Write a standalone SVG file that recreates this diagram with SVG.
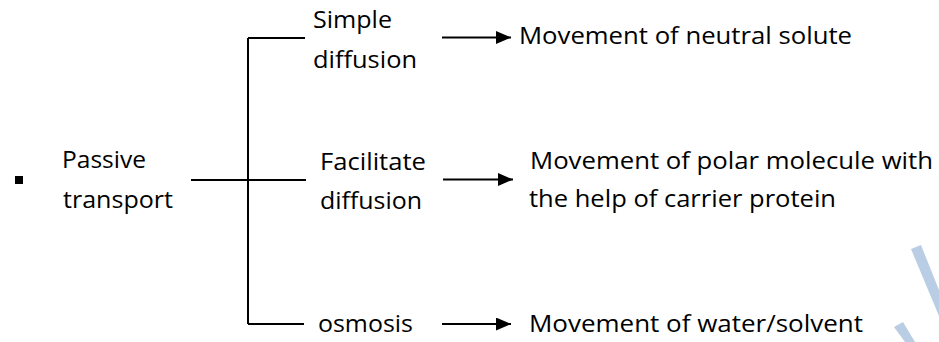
<svg xmlns="http://www.w3.org/2000/svg" width="939" height="342" viewBox="0 0 939 342">
  <style>
    .t { font-family: "Open Sans", "Noto Sans", sans-serif; font-size: 23.5px; fill: #000; }
    .ln { stroke: #000; stroke-width: 2; fill: none; }
    .wm { fill: #b9cde5; }
  </style>
  <defs>
    <marker id="ah" markerUnits="userSpaceOnUse" markerWidth="15" markerHeight="13" viewBox="0 0 15 13" refX="15" refY="6.5" orient="auto">
      <path d="M0,0 L15,6.5 L0,13 Z" fill="#000"/>
    </marker>
  </defs>
  <rect width="939" height="342" fill="#fff"/>

  <g id="watermark">
    <polygon class="wm" points="911,249 921,245 939,290 939,316"/>
    <polygon class="wm" points="894,327 903,322 915,342 905,342"/>
  </g>

  <g id="bullet">
    <rect x="15" y="176" width="8" height="8" fill="#000"/>
  </g>

  <g id="passive">
    <text class="t" x="62" y="168" textLength="84" lengthAdjust="spacingAndGlyphs">Passive</text>
    <text class="t" x="63" y="208" textLength="110" lengthAdjust="spacingAndGlyphs">transport</text>
  </g>

  <g id="simple">
    <text class="t" x="313" y="28" textLength="79" lengthAdjust="spacingAndGlyphs">Simple</text>
    <text class="t" x="313" y="68" textLength="104" lengthAdjust="spacingAndGlyphs">diffusion</text>
  </g>

  <g id="facilitate">
    <text class="t" x="320" y="170" textLength="106" lengthAdjust="spacingAndGlyphs">Facilitate</text>
    <text class="t" x="320" y="209" textLength="102" lengthAdjust="spacingAndGlyphs">diffusion</text>
  </g>

  <g id="osmosis">
    <text class="t" x="318" y="332" textLength="95" lengthAdjust="spacingAndGlyphs">osmosis</text>
  </g>

  <g id="desc-simple">
    <text class="t" x="519" y="44" textLength="333" lengthAdjust="spacingAndGlyphs">Movement of neutral solute</text>
  </g>

  <g id="desc-facilitate">
    <text class="t" x="530" y="169" textLength="403" lengthAdjust="spacingAndGlyphs">Movement of polar molecule with</text>
    <text class="t" x="529" y="207" textLength="307" lengthAdjust="spacingAndGlyphs">the help of carrier protein</text>
  </g>

  <g id="desc-osmosis">
    <text class="t" x="529" y="332" textLength="334" lengthAdjust="spacingAndGlyphs">Movement of water/solvent</text>
  </g>

  <g id="connectors">
    <line class="ln" x1="191" y1="180" x2="306" y2="180"/>
    <line class="ln" x1="248" y1="38" x2="248" y2="324"/>
    <line class="ln" x1="248" y1="38" x2="305" y2="38"/>
    <line class="ln" x1="248" y1="324" x2="304" y2="324"/>
    <line class="ln" x1="442" y1="37.5" x2="511" y2="37.5" marker-end="url(#ah)"/>
    <line class="ln" x1="443" y1="179.5" x2="513" y2="179.5" marker-end="url(#ah)"/>
    <line class="ln" x1="442" y1="324" x2="511" y2="324" marker-end="url(#ah)"/>
  </g>
</svg>
